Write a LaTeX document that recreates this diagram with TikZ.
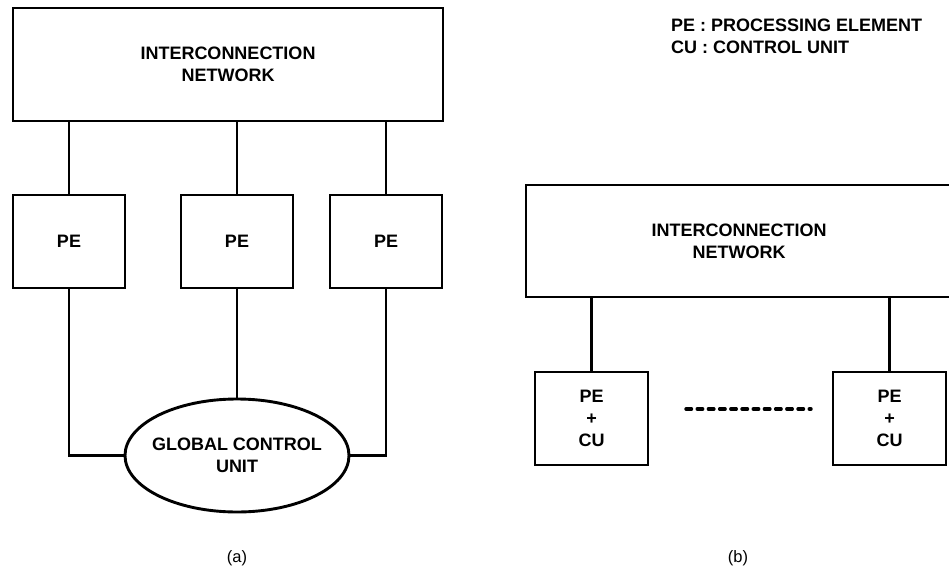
\documentclass[tikz,border=0pt]{standalone}
\usepackage{fontspec}
\setmainfont{Liberation Sans}
\usetikzlibrary{shapes.geometric}
\begin{document}
\begin{tikzpicture}[x=1pt,y=-1pt,
  every node/.style={font=\bfseries\fontsize{18}{22}\selectfont, align=center, inner sep=0pt},
  unitbox/.style={draw, line width=2.9pt, rectangle},
  link/.style={line width=2.9pt},
  caption/.style={font=\fontsize{16.5}{20}\selectfont}]
  \clip (0,0) rectangle (949,572);
  \useasboundingbox (0,0) rectangle (949,572);

  % (a) shared control unit
  \node[unitbox, minimum width=430pt, minimum height=113pt] (neta) at (228,64.5) {INTERCONNECTION\\NETWORK};
  \node[unitbox, minimum width=112pt, minimum height=93pt] (pe1) at (69,241.5) {PE};
  \node[unitbox, minimum width=112pt, minimum height=93pt] (pe2) at (237,241.5) {PE};
  \node[unitbox, minimum width=112pt, minimum height=93pt] (pe3) at (386,241.5) {PE};
  \node[draw, ellipse, line width=2.9pt, minimum width=224pt, minimum height=113pt] (gcu) at (237,455.5) {};
  \node (gcutext) at (gcu.center) {GLOBAL CONTROL\\UNIT};

  \draw[link] (pe1.north) -- (pe1.north |- neta.south);
  \draw[link] (pe2.north) -- (pe2.north |- neta.south);
  \draw[link] (pe3.north) -- (pe3.north |- neta.south);
  \draw[link] (pe1.south) |- (gcu.west);
  \draw[link] (pe2.south) -- (gcu.north);
  \draw[link] (pe3.south) |- (gcu.east);

  \node[caption] (capa) at (237,558) {(a)};

  % legend
  \node[anchor=west, align=left] (legend) at (671,36) {PE : PROCESSING ELEMENT\\CU : CONTROL UNIT};

  % (b) distributed control units
  \node[unitbox, minimum width=426pt, minimum height=112pt] (netb) at (739,241) {INTERCONNECTION\\NETWORK};
  \node[unitbox, minimum width=113pt, minimum height=93pt] (pcu1) at (591.5,418.5) {PE\\+\\CU};
  \node[unitbox, minimum width=113pt, minimum height=93pt] (pcu2) at (889.5,418.5) {PE\\+\\CU};
  \draw[link] (pcu1.north) -- (pcu1.north |- netb.south);
  \draw[link] (pcu2.north) -- (pcu2.north |- netb.south);

  \coordinate (dotl) at (686,409);
  \coordinate (dotr) at (811,409);
  \draw[line width=3.4pt, line cap=round, dash pattern=on 5.5pt off 5.7pt] (dotl) -- (dotr);

  \node[caption] (capb) at (738,558) {(b)};
\end{tikzpicture}
\end{document}
